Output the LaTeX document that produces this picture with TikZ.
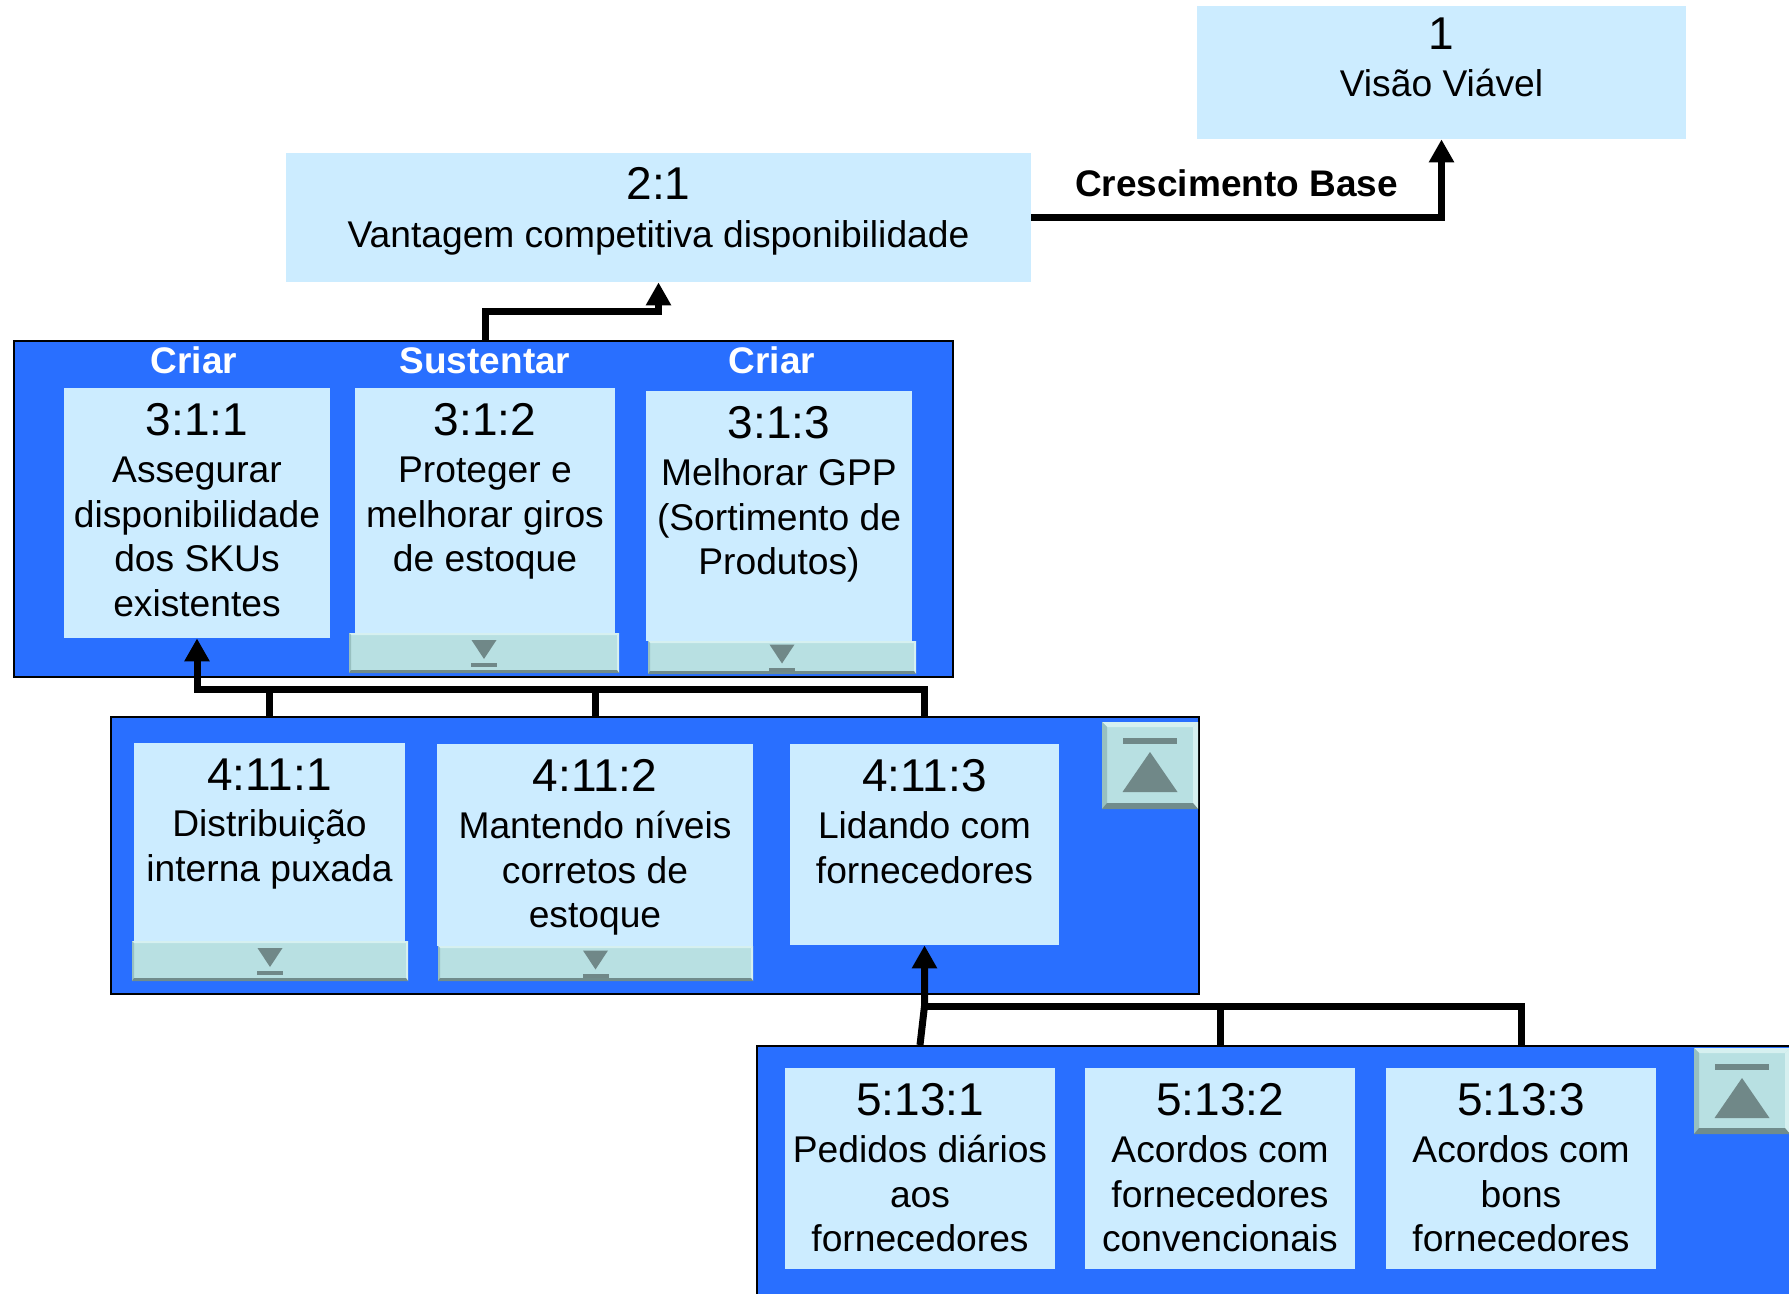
\documentclass[tikz,border=0pt]{standalone}
\usepackage{fontspec}
\setmainfont{Liberation Sans}
\usetikzlibrary{arrows.meta,fit}

\definecolor{panelblue}{RGB}{41,111,255}
\definecolor{cardblue}{RGB}{204,236,255}
\definecolor{btnface}{RGB}{184,224,226}
\definecolor{btnlight}{RGB}{214,240,240}
\definecolor{btnmid}{RGB}{152,192,192}
\definecolor{btndark}{RGB}{112,140,140}
\definecolor{glyph}{RGB}{112,136,136}

\newcommand\bodysz{\fontsize{18.6}{22.4}\selectfont}
\newcommand\numsz{\fontsize{23}{25}\selectfont}

\tikzset{
  panel/.style={fill=panelblue, draw=black, line width=1pt, inner sep=0pt, fit={#1}},
  card/.style={fill=cardblue, inner sep=0pt, fit={#1}},
  cardtxt/.style={anchor=north, align=center, inner sep=0pt, font=\bodysz},
  conn/.style={line width=3.5pt, line join=miter},
  arr/.style={conn, -{Triangle[length=11.5pt,width=12pt]}},
  head/.style={font=\fontsize{18.5}{22}\selectfont\bfseries, inner sep=0pt},
}

% flat "collapse" button with a down triangle and bar
\newcommand\downbtn[4]{%
  \fill[btnface] (#1,#2) rectangle (#3,#4);
  \fill[btnlight] (#1,#2) -- (#3,#2) -- ({#3-2},{#2+2}) -- ({#1+2},{#2+2}) -- cycle;
  \fill[btnlight] (#3,#2) -- (#3,#4) -- ({#3-2},{#4-2}) -- ({#3-2},{#2+2}) -- cycle;
  \fill[btnmid] (#1,#2) -- ({#1+2},{#2+2}) -- ({#1+2},{#4-2}) -- (#1,#4) -- cycle;
  \fill[btndark] (#1,#4) -- ({#1+2},{#4-3}) -- ({#3-2},{#4-3}) -- (#3,#4) -- cycle;
  \fill[glyph] ({(#1+#3)/2-12.5},{(#2+#4)/2-13}) -- ({(#1+#3)/2+12.5},{(#2+#4)/2-13})
     -- ({(#1+#3)/2},{(#2+#4)/2+6}) -- cycle;
  \fill[glyph] ({(#1+#3)/2-13},{(#2+#4)/2+10}) rectangle ({(#1+#3)/2+13},{(#2+#4)/2+14});
}

% raised "go up" button with a bar and an up triangle
\newcommand\upbtn[4]{%
  \fill[btnface] (#1,#2) rectangle (#3,#4);
  \fill[btnlight] (#1,#2) -- (#3,#2) -- ({#3-5},{#2+5}) -- ({#1+5},{#2+5}) -- cycle;
  \fill[btnlight] (#3,#2) -- (#3,#4) -- ({#3-5},{#4-5}) -- ({#3-5},{#2+5}) -- cycle;
  \fill[btnmid] (#1,#2) -- ({#1+5},{#2+5}) -- ({#1+5},{#4-5}) -- (#1,#4) -- cycle;
  \fill[btndark] (#1,#4) -- ({#1+5},{#4-6}) -- ({#3-5},{#4-6}) -- (#3,#4) -- cycle;
  \fill[glyph] ({(#1+#3)/2-27},{#2+16}) rectangle ({(#1+#3)/2+27},{#2+22});
  \fill[glyph] ({(#1+#3)/2},{#2+30}) -- ({(#1+#3)/2+27.5},{#2+70})
     -- ({(#1+#3)/2-27.5},{#2+70}) -- cycle;
}

\begin{document}
\begin{tikzpicture}[x=0.5pt, y=-0.5pt]
\useasboundingbox (0,0) rectangle (1789,1294);
\clip (0,0) rectangle (1789,1294);
\fill[white] (0,0) rectangle (1789,1294);

% ---- level 1 and 2 ----
\node[card={(1197,6) (1686,139)}] (b1) {};
\node[cardtxt] (t1) at ([yshift=-5.7pt]b1.north) {{\numsz 1}\\[1.3pt]Visão Viável};

\node[card={(286,153) (1031,282)}] (b21) {};
\node[cardtxt] (t21) at ([yshift=-7.4pt]b21.north) {{\numsz 2:1}\\[1.3pt]Vantagem competitiva disponibilidade};

% ---- level 3 panel ----
\node[panel={(14,341) (953,677)}] (p3) {};
\node[head, text=white, anchor=base] (l311) at (194,374) {Criar};
\node[head, text=white, anchor=base] (l312) at (485,374) {Sustentar};
\node[head, text=white, anchor=base] (l313) at (772,374) {Criar};

\node[card={(64,388) (330,638)}] (b311) {};
\node[cardtxt] (t311) at ([yshift=-7.7pt]b311.north)
  {{\numsz 3:1:1}\\[1pt]Assegurar\\disponibilidade\\dos SKUs\\existentes};

\node[card={(355,388) (615,633)}] (b312) {};
\node[cardtxt] (t312) at ([yshift=-7.7pt]b312.north)
  {{\numsz 3:1:2}\\[1pt]Proteger e\\melhorar giros\\de estoque};
\downbtn{349}{633}{619}{673}

\node[card={(646,391) (912,641)}] (b313) {};
\node[cardtxt] (t313) at ([yshift=-7.7pt]b313.north)
  {{\numsz 3:1:3}\\[1pt]Melhorar GPP\\(Sortimento de\\Produtos)};
\downbtn{648}{641}{916}{674}

% ---- level 4 panel ----
\node[panel={(111,717) (1199,994)}] (p4) {};

\node[card={(134,743) (405,941)}] (b4111) {};
\node[cardtxt] (t4111) at ([yshift=-7.7pt]b4111.north)
  {{\numsz 4:11:1}\\[1pt]Distribuição\\interna puxada};
\downbtn{132}{941}{408}{981}

\node[card={(437,744) (753,946)}] (b4112) {};
\node[cardtxt] (t4112) at ([yshift=-7.7pt]b4112.north)
  {{\numsz 4:11:2}\\[1pt]Mantendo níveis\\corretos de\\estoque};
\downbtn{438}{946}{753}{981}

\node[card={(790,744) (1059,945)}] (b4113) {};
\node[cardtxt] (t4113) at ([yshift=-7.7pt]b4113.north)
  {{\numsz 4:11:3}\\[1pt]Lidando com\\fornecedores};

\upbtn{1102}{722}{1198}{809}

% ---- level 5 panel ----
\node[panel={(757,1046) (1820,1320)}] (p5) {};

\node[card={(785,1068) (1055,1269)}] (b5131) {};
\node[cardtxt] (t5131) at ([yshift=-7.7pt]b5131.north)
  {{\numsz 5:13:1}\\[1pt]Pedidos diários\\aos\\fornecedores};

\node[card={(1085,1068) (1355,1269)}] (b5132) {};
\node[cardtxt] (t5132) at ([yshift=-7.7pt]b5132.north)
  {{\numsz 5:13:2}\\[1pt]Acordos com\\fornecedores\\convencionais};

\node[card={(1386,1068) (1656,1269)}] (b5133) {};
\node[cardtxt] (t5133) at ([yshift=-7.7pt]b5133.north)
  {{\numsz 5:13:3}\\[1pt]Acordos com\\bons\\fornecedores};

\upbtn{1694}{1048}{1790}{1134}

% ---- connectors ----
\draw[arr] (b21.east) -- node[head, anchor=south, yshift=8.8pt] (lcb) {Crescimento Base}
  (b21.east -| b1.south) -- (b1.south);

\coordinate (bus2) at (0,312);
\draw[arr] (b312 |- p3.north) -- (b312 |- bus2) -- (b21 |- bus2) -- (b21.south);

\coordinate (bus3) at (0,689);
\draw[arr] (b4111 |- p4.north) -- (b4111 |- bus3) -- (b311 |- bus3) -- (b311.south);
\draw[conn] (b4112 |- p4.north) -- (b4112 |- bus3);
\draw[conn] (b4113 |- p4.north) -- (b4113 |- bus3) -- (b4111 |- bus3);

\coordinate (bus5) at (0,1006);
\draw[arr] (b5131 |- p5.north) -- (b4113 |- bus5) -- (b4113.south);
\draw[conn] (b5132 |- p5.north) -- (b5132 |- bus5);
\draw[conn] (b5133 |- p5.north) -- (b5133 |- bus5) -- (b4113 |- bus5);
\end{tikzpicture}
\end{document}
